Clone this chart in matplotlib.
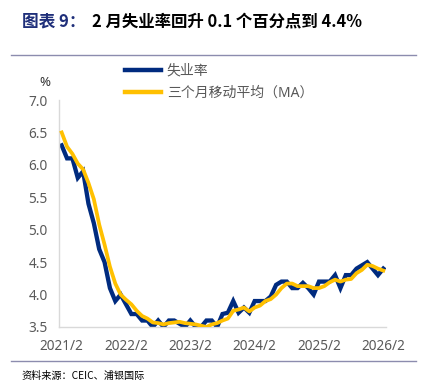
import matplotlib
matplotlib.use("Agg")
import matplotlib.pyplot as plt
from matplotlib.lines import Line2D

plt.rcParams['font.family'] = ['Noto Sans', 'Noto Sans CJK SC', 'DejaVu Sans']

# monthly, 2021/2 .. 2026/2
months = [f"{2021 + (m + 1) // 12}/{(m + 1) % 12 + 1}" for m in range(61)]
unemp = [6.3, 6.1, 6.1, 5.8, 5.9, 5.4, 5.1, 4.7, 4.5, 4.1, 3.9,   # 2021
         4.0, 3.85, 3.7, 3.7, 3.6, 3.6, 3.5, 3.6, 3.5, 3.6, 3.6, 3.55,  # 2022
         3.5, 3.6, 3.5, 3.5, 3.6, 3.6, 3.5, 3.7, 3.72, 3.9, 3.72, 3.8,  # 2023
         3.72, 3.9, 3.9, 3.9, 3.97, 4.15, 4.2, 4.2, 4.1, 4.1, 4.18, 4.1,  # 2024
         4.0, 4.2, 4.2, 4.2, 4.3, 4.1, 4.3, 4.3, 4.4, 4.45, 4.5, 4.4,  # 2025
         4.3, 4.4]
ma3 = [6.5, 6.28, 6.17, 6.02, 5.93, 5.72, 5.47, 5.08, 4.77, 4.43, 4.17,
       4.0, 3.92, 3.85, 3.75, 3.67, 3.63, 3.57, 3.56, 3.54, 3.56, 3.57, 3.58,
       3.56, 3.55, 3.54, 3.52, 3.5, 3.54, 3.56, 3.6, 3.63, 3.75, 3.77, 3.8,
       3.74, 3.8, 3.83, 3.9, 3.93, 4.0, 4.1, 4.17, 4.17, 4.13, 4.13, 4.13,
       4.1, 4.1, 4.13, 4.19, 4.23, 4.2, 4.23, 4.24, 4.33, 4.38, 4.46, 4.44,
       4.4, 4.37]
tick_labels = ["2021/2", "2022/2", "2023/2", "2024/2", "2025/2", "2026/2"]
tick_pos = [months.index(t) for t in tick_labels]

NAVY = '#002B7F'
GOLD = '#FFC000'
GREY = '#595959'

fig = plt.figure(figsize=(4.21, 3.90), dpi=100)
ax = fig.add_axes([59 / 421, 63 / 390, 327 / 421, 227 / 390])

x = list(range(len(months)))
ax.plot(x, unemp, color=NAVY, lw=3.1, solid_joinstyle='miter', label='失业率', zorder=2)
ax.plot(x, ma3, color=GOLD, lw=2.7, label='三个月移动平均（MA）', zorder=3)

ax.set_xlim(-0.5, 60.5)
ax.set_ylim(3.5, 7.0)
ax.set_yticks([3.5, 4.0, 4.5, 5.0, 5.5, 6.0, 6.5, 7.0])
ax.set_yticklabels([f"{v:.1f}" for v in [3.5, 4.0, 4.5, 5.0, 5.5, 6.0, 6.5, 7.0]])
ax.set_xticks(tick_pos)
ax.set_xticklabels(tick_labels)
ax.tick_params(length=0, colors=GREY, labelsize=9.8)
ax.tick_params(axis='y', pad=8)
ax.tick_params(axis='x', pad=9)
for s in ['top', 'right']:
    ax.spines[s].set_visible(False)
for s in ['left', 'bottom']:
    ax.spines[s].set_color('#D9D9D9')
    ax.spines[s].set_linewidth(1)

fig.text(45 / 421, 1 - 82 / 390, '%', fontsize=9.5, color='#333333', ha='center', va='center')

handles = [Line2D([0], [0], color=NAVY, lw=3.2), Line2D([0], [0], color=GOLD, lw=3.2)]
fig.legend(handles, ['失业率', '三个月移动平均（MA）'], loc='upper left',
           bbox_to_anchor=(125 / 421, 1 - 64 / 390), frameon=False, fontsize=10,
           labelcolor=GREY, handlelength=2.6, handletextpad=0.4, labelspacing=0.5,
           borderpad=0, borderaxespad=0)

# title
fig.text(22 / 421, 1 - 21 / 390, '图表 9：', fontsize=12, fontweight='bold',
         color='#1F2F7A', va='center', family=['Noto Sans CJK SC'])
fig.text(92 / 421, 1 - 21 / 390, '2 月失业率回升 0.1 个百分点到 4.4%', fontsize=11.8,
         fontweight='bold', color='black', va='center', family=['Noto Sans CJK SC'])

fig.add_artist(Line2D([11 / 421, 416 / 421], [1 - 55 / 390] * 2, color='#8C8CAE', lw=1))
fig.add_artist(Line2D([11 / 421, 416 / 421], [1 - 361 / 390] * 2, color='#8C8CAE', lw=1))
fig.text(21 / 421, 1 - 376 / 390, '资料来源：CEIC、浦银国际', fontsize=7.3, color='black',
         va='center', family=['Noto Sans CJK SC'])

fig.savefig('out.png', dpi=100, facecolor='white')
